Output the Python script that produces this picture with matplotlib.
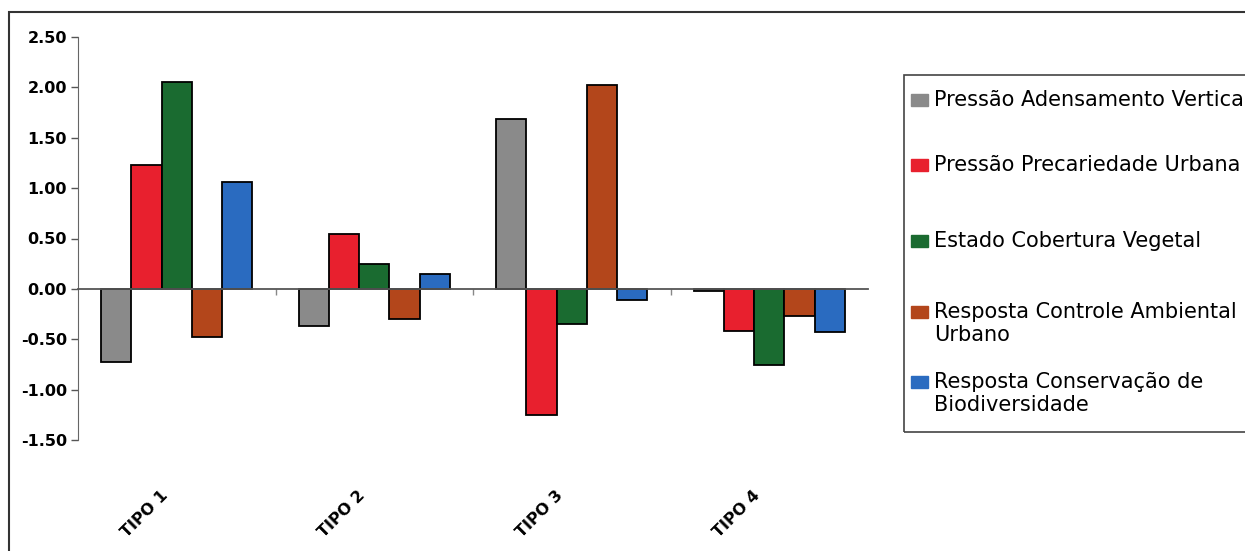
import numpy as np
import matplotlib
matplotlib.use('Agg')
import matplotlib.pyplot as plt
from matplotlib.patches import Rectangle
from matplotlib.transforms import ScaledTranslation

# data
categories = ["TIPO 1", "TIPO 2", "TIPO 3", "TIPO 4"]
series_names = ["Pressão Adensamento Vertical",
                "Pressão Precariedade Urbana",
                "Estado Cobertura Vegetal",
                "Resposta Controle Ambiental\nUrbano",
                "Resposta Conservação de\nBiodiversidade"]
adensamento  = [-0.73, -0.37, 1.69, -0.02]
precariedade = [1.23, 0.54, -1.25, -0.42]
cobertura    = [2.05, 0.25, -0.35, -0.76]
controle     = [-0.48, -0.30, 2.02, -0.27]
conservacao  = [1.06, 0.15, -0.11, -0.43]
yticks = [-1.5, -1.0, -0.5, 0.0, 0.5, 1.0, 1.5, 2.0, 2.5]

values = [adensamento, precariedade, cobertura, controle, conservacao]
colors = ["#8a8a8a", "#e8202e", "#1a6b30", "#b3461b", "#2a6bc0"]

fig = plt.figure(figsize=(12.45, 5.51), dpi=100)
ax = fig.add_axes([78/1245, 111/551, 790/1245, 403/551])

x = np.arange(len(categories))
w = 0.153
for i, (vals, col) in enumerate(zip(values, colors)):
    ax.bar(x + (i - 2) * w, vals, w, color=col, edgecolor="black", lw=1.3, zorder=3)

ax.set_xlim(-0.5, len(categories) - 0.5)
ax.set_ylim(-1.5, 2.5)
ax.set_yticks(yticks)
ax.set_yticklabels([f"{v:.2f}" for v in yticks], fontweight="bold", fontsize=11.5)
ax.tick_params(axis="y", length=5, width=1, color="#555555", pad=3)

# zero axis with ticks at category boundaries
for s in ["top", "right"]:
    ax.spines[s].set_visible(False)
ax.spines["left"].set_color("#666666")
ax.spines["bottom"].set_position(("data", 0))
ax.spines["bottom"].set_color("#555555")
ax.spines["bottom"].set_linewidth(1.3)
ax.spines["bottom"].set_zorder(4)
ax.set_xticks(x[:-1] + 0.5)
ax.set_xticklabels([])
ax.tick_params(axis="x", length=4, width=1, color="#888888")

# category labels below the plot area (Excel "low" label position)
off = ScaledTranslation(-17/100, -48/100, fig.dpi_scale_trans)
for xi, cat in zip(x, categories):
    ax.text(xi, 0, cat, transform=ax.get_xaxis_transform() + off,
            rotation=45, ha="right", va="top", rotation_mode="anchor",
            fontweight="bold", fontsize=11.5)

# legend drawn by hand to follow the original box layout
fig.add_artist(Rectangle((904/1245, (551-432)/551), 0.5, (432-75)/551,
                         transform=fig.transFigure, fill=False,
                         edgecolor="#444444", lw=1.2))
label_tops = [100, 165, 241, 312, 382]
for name, col, yc in zip(series_names, colors, label_tops):
    fig.add_artist(Rectangle((911/1245, (551-yc-6)/551), 17/1245, 12/551,
                             transform=fig.transFigure, color=col))
    fig.text(934/1245, (551-yc+10)/551, name, fontsize=15, va="top", ha="left")

# outer frame
fig.add_artist(Rectangle((9/1245, -0.1), 1.2, (551-12)/551 + 0.1,
                         transform=fig.transFigure, fill=False,
                         edgecolor="#333333", lw=1.5))

fig.savefig("out.png", dpi=100)
